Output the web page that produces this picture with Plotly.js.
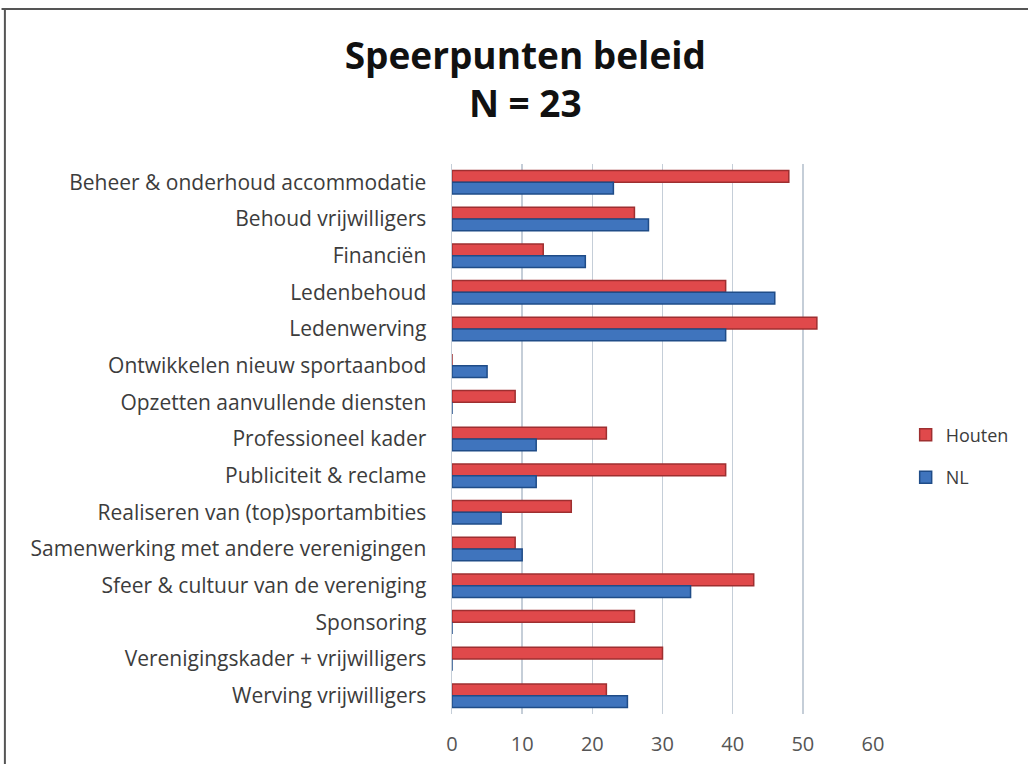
<!DOCTYPE html>
<html>
<head>
<meta charset="utf-8">
<script src="https://cdn.plot.ly/plotly-3.0.1.min.js"></script>
<style>html,body{margin:0;padding:0;background:#fff;}#chart{width:1028px;height:764px;}</style>
</head>
<body>
<div id="chart"></div>
<script>
var categories = [
  "Beheer & onderhoud accommodatie",
  "Behoud vrijwilligers",
  "Financiën",
  "Ledenbehoud",
  "Ledenwerving",
  "Ontwikkelen nieuw sportaanbod",
  "Opzetten aanvullende diensten",
  "Professioneel kader",
  "Publiciteit & reclame",
  "Realiseren van (top)sportambities",
  "Samenwerking met andere verenigingen",
  "Sfeer & cultuur van de vereniging",
  "Sponsoring",
  "Verenigingskader + vrijwilligers",
  "Werving vrijwilligers"
];
var houten = [48, 26, 13, 39, 52, 0, 9, 22, 39, 17, 9, 43, 26, 30, 22];
var nl     = [23, 28, 19, 46, 39, 5, 0, 12, 12, 7, 10, 34, 0, 0, 25];
var xTicks = [0, 10, 20, 30, 40, 50, 60];

var traces = [
  {type: 'bar', orientation: 'h', name: 'Houten', legendgroup: 'h', y: categories, x: houten,
   marker: {color: '#e0494b', line: {color: '#9e2f30', width: 1.5}}},
  {type: 'bar', orientation: 'h', name: 'NL', legendgroup: 'n', y: categories, x: nl,
   marker: {color: '#3f74bd', line: {color: '#1f4c88', width: 1.5}}}
];

var layout = {
  width: 1028, height: 764,
  paper_bgcolor: '#ffffff', plot_bgcolor: '#ffffff',
  margin: {l: 452, r: 155, t: 164, b: 50},
  font: {family: '"Open Sans", Lato, sans-serif', color: '#3c3c3c'},
  title: {
    text: '<b>Speerpunten beleid</b><br><b>N = 23</b>',
    font: {size: 37, color: '#111', family: '"Open Sans", Lato, sans-serif'},
    x: 0.511, xref: 'container', xanchor: 'center',
    y: 0.91, yref: 'container', yanchor: 'top'
  },
  barmode: 'group',
  bargap: 0.36,
  bargroupgap: 0,
  xaxis: {
    range: [0, 60], tickvals: xTicks, ticktext: xTicks.map(String),
    showgrid: true, gridcolor: '#c5ced8', gridwidth: 1.5,
    zeroline: false, showline: false, ticks: '',
    tickfont: {size: 20, color: '#555'},
    ticklabelstandoff: 16, fixedrange: true
  },
  yaxis: {
    autorange: 'reversed', type: 'category',
    showline: true, linecolor: '#c5ced8', linewidth: 1.5,
    showgrid: false, ticks: '',
    tickfont: {size: 21, color: '#3c3c3c'},
    ticklabelstandoff: 20, fixedrange: true
  },
  legend: {
    xref: 'container', x: 0.881, xanchor: 'left',
    y: 0.469, yanchor: 'middle',
    font: {size: 18, color: '#3c3c3c'},
    traceorder: 'grouped', tracegroupgap: 16, itemwidth: 30
  },
  showlegend: true,
  shapes: [
    {type: 'line', xref: 'paper', yref: 'paper', x0: -1.07, x1: 1.4, y0: 1.282, y1: 1.282,
     line: {color: '#555', width: 2}},
    {type: 'line', xref: 'paper', yref: 'paper', x0: -1.062, x1: -1.062, y0: -0.1, y1: 1.282,
     line: {color: '#555', width: 2}}
  ]
};

Plotly.newPlot('chart', traces, layout, {displayModeBar: false, staticPlot: true});
</script>
</body>
</html>
